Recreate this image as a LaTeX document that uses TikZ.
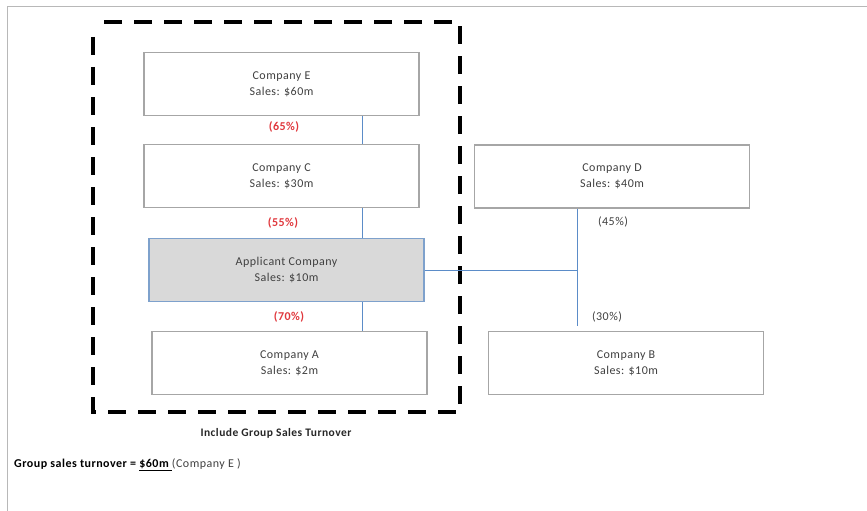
\documentclass[tikz,border=0pt]{standalone}
\usepackage{fontspec}
\setmainfont{Carlito}
\newfontfamily\spaced[LetterSpace=4]{Carlito}
\definecolor{boxline}{HTML}{A6A6A6}
\definecolor{txt}{HTML}{404040}
\definecolor{pct}{HTML}{E0393E}
\definecolor{link}{HTML}{5B8CC8}
\definecolor{appfill}{HTML}{D9D9D9}
\definecolor{appline}{HTML}{7EA1CC}
\tikzset{
  frame/.style={draw=boxline!80, line width=1pt},
  company/.style={draw=boxline, line width=1.2pt, fill=white, minimum width=275pt,
    minimum height=63pt, inner sep=0pt, align=center, text=txt,
    font=\spaced\fontsize{12}{16}\selectfont},
  applicant/.style={company, fill=appfill, draw=appline},
  wire/.style={draw=link, line width=0.9pt},
  share/.style={text=pct, font=\spaced\bfseries\fontsize{12}{14}\selectfont, inner sep=0pt},
  minor/.style={text=txt, font=\spaced\fontsize{12}{14}\selectfont, inner sep=0pt},
  groupline/.style={draw=black, line width=4pt, dash pattern=on 18pt off 12pt},
}
\begin{document}
\begin{tikzpicture}[x=1pt, y=-1pt]
\useasboundingbox (0,0) rectangle (867,511);
% page edge
\draw[frame] (7,511) -- (7,7) -- (867,7);

% boundary of the group
\draw[groupline] (93,37) -- (93,412) -- (460,412) -- (460,22) -- (93,22);
\node[font=\spaced\bfseries\fontsize{11.5}{13}\selectfont, text=black!85, inner sep=0pt]
  (grplabel) at (276,433) {Include Group Sales Turnover};

% companies
\node[company]   (E)   at (281.5,84)  {Company E\\Sales: \$60m};
\node[company]   (C)   at (281.5,176) {Company C\\Sales: \$30m};
\node[applicant] (App) at (286.5,270) {Applicant Company\\Sales: \$10m};
\node[company]   (A)   at (289.5,363) {Company A\\Sales: \$2m};
\node[company]   (D)   at (612,176.5) {Company D\\Sales: \$40m};
\node[company]   (B)   at (626,363)   {Company B\\Sales: \$10m};

% ownership lines
\coordinate (spine) at (362,0);
\coordinate (jn) at (577,270);
\coordinate (tail) at (577,326);
\draw[wire] (E.south -| spine) -- (C.north -| spine);
\draw[wire] (C.south -| spine) -- (App.north -| spine);
\draw[wire] (App.south -| spine) -- (A.north -| spine);
\draw[wire] (App.east) -- (jn);
\draw[wire] (D.south -| jn) -- (tail);

% shareholdings
\node[share] (p65) at (284,127) {(65\%)};
\node[share] (p55) at (283,223) {(55\%)};
\node[share] (p70) at (289,317) {(70\%)};
\node[minor] (p45) at (613,222) {(45\%)};
\node[minor] (p30) at (607,317) {(30\%)};

% result
\node[anchor=west, inner sep=0pt, font=\spaced\fontsize{12}{14}\selectfont] (result) at (14,465)
  {\bfseries Group sales turnover = \underline{\$60m\ }\mdseries\textcolor{txt}{(Company E )}};
\end{tikzpicture}
\end{document}
